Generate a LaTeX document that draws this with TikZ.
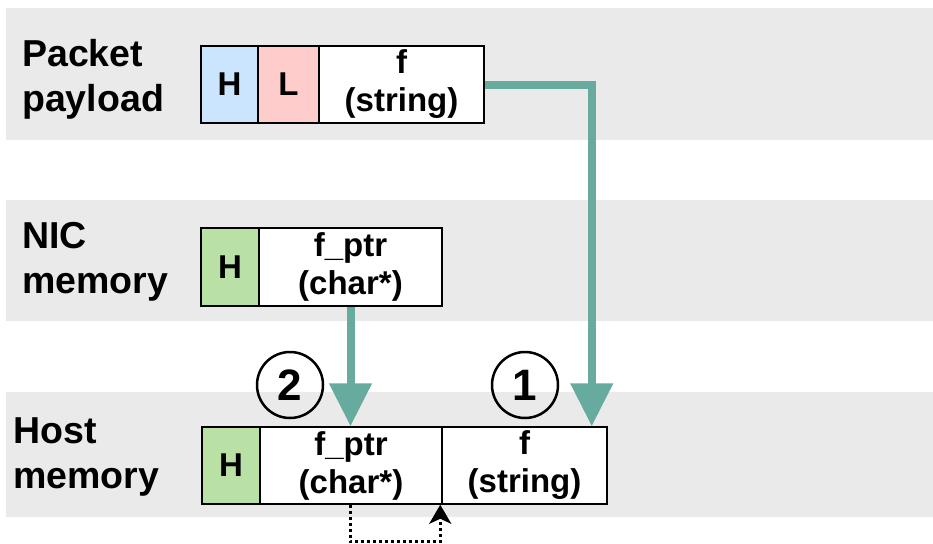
\documentclass[tikz,border=0pt]{standalone}
\usepackage{fontspec}
\setmainfont{Liberation Sans}
\usetikzlibrary{arrows.meta,calc}
\definecolor{bandgray}{RGB}{234,234,234}
\definecolor{hblue}{RGB}{204,229,255}
\definecolor{lred}{RGB}{255,204,204}
\definecolor{hgreen}{RGB}{185,224,165}
\definecolor{teal}{RGB}{103,171,159}
\tikzset{
  band/.style={fill=bandgray, draw=none},
  rowlabel/.style={font=\fontsize{37.5}{45}\selectfont\bfseries, align=left, inner sep=0pt, anchor=west},
  cell/.style={draw=black, line width=1.5pt, inner sep=0pt, minimum height=77pt, font=\fontsize{33}{38}\selectfont\bfseries, align=center},
  flow/.style={draw=teal, line width=8pt, -{Triangle[width=41pt,length=43pt]}},
  stepnum/.style={circle, draw=black, line width=2.5pt, minimum size=66pt, inner sep=0pt, font=\fontsize{44}{44}\selectfont\bfseries},
  ptrlink/.style={draw=black, line width=3pt, dash pattern=on 3pt off 3pt, -{Stealth[width=22pt,length=19pt,inset=5pt]}}
}
\begin{document}
\begin{tikzpicture}[x=1pt,y=-1pt]
\useasboundingbox (0,0) rectangle (933,543);
% bands
\fill[band] (6,8) rectangle (933,140);
\fill[band] (6,200) rectangle (933,321);
\fill[band] (6,392) rectangle (933,517);
% labels
\node[rowlabel] (lp) at (22,79) {Packet\\payload};
\node[rowlabel] (ln) at (22,262) {NIC\\memory};
\node[rowlabel] (lh) at (13,457) {Host\\memory};
% packet payload
\node[cell, fill=hblue, minimum width=57pt] (PH) at (229.5,84.5) {H};
\node[cell, fill=lred, minimum width=61pt] (PL) at (288.5,84.5) {L};
\node[cell, fill=white, minimum width=165pt] (Pf) at (401.5,84.5) {f\\(string)};
% NIC memory
\node[cell, fill=hgreen, minimum width=58pt, minimum height=78pt] (NH) at (230,267) {H};
\node[cell, fill=white, minimum width=183pt, minimum height=78pt] (Nfptr) at (350.5,267) {f\_ptr\\(char*)};
% Host memory
\node[cell, fill=hgreen, minimum width=58pt] (HH) at (231,465.5) {H};
\node[cell, fill=white, minimum width=182pt] (Hfptr) at (351,465.5) {f\_ptr\\(char*)};
\node[cell, fill=white, minimum width=165pt] (Hf) at (524.5,465.5) {f\\(string)};
% step markers
\node[stepnum] (s2) at (290,385) {2};
\node[stepnum] (s1) at (525,385) {1};
% arrows
\coordinate (t1) at ($(Hf.north east)+(-16,0)$);
\draw[flow] (Pf.east) -| (t1);
\draw[flow] (Nfptr.south) -- (Nfptr.south |- Hfptr.north);
\coordinate (d1) at ($(Hfptr.south)+(-1,37)$);
\coordinate (d2) at ($(Hf.south west)+(-1,37)$);
\draw[ptrlink] (Hfptr.south -| d1) -- (d1) -- (d2) -- ($(Hf.south west)+(-1,0)$);
\end{tikzpicture}
\end{document}
